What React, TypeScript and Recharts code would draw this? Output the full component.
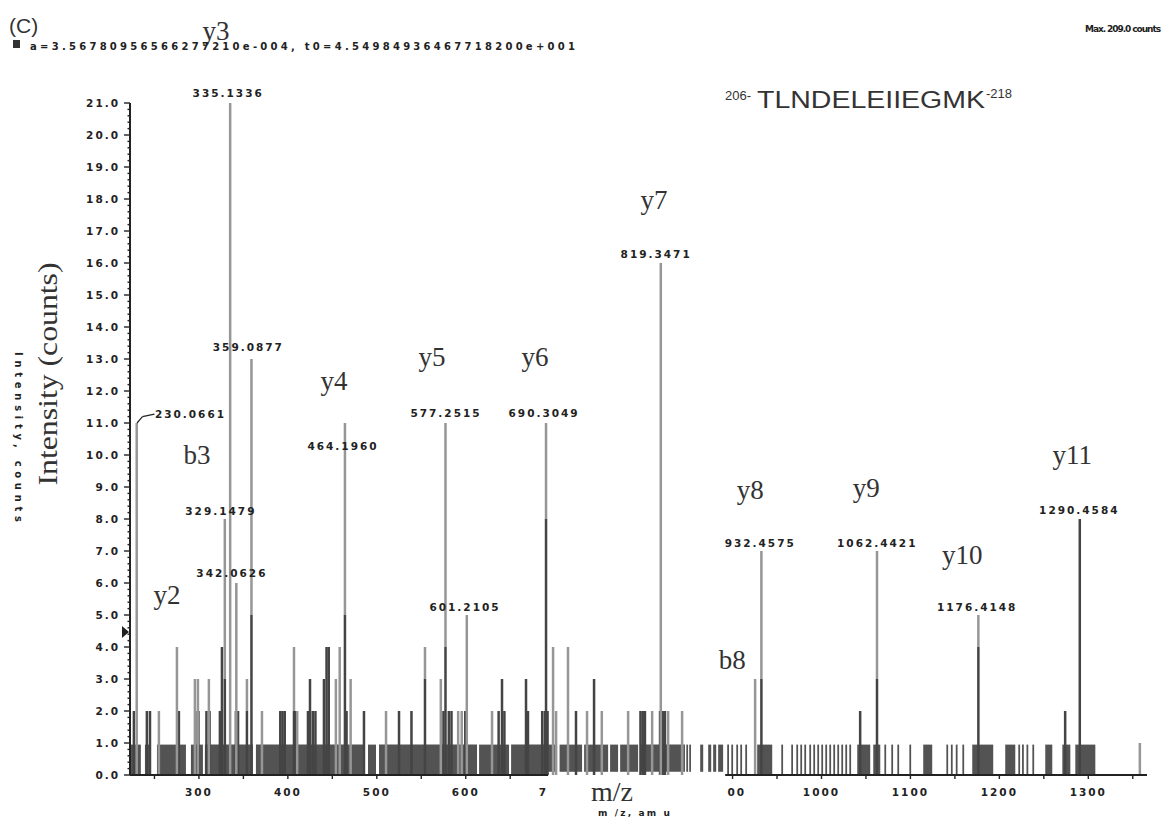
import React from 'react';
import { ComposedChart, Bar, XAxis, YAxis, ReferenceArea, ReferenceLine, ReferenceDot } from 'recharts';

// ---- spectrum data (m/z, intensity in counts) ----
const lightPeaks: [number, number][] = [
  [230.0661, 11], [255, 2], [275.3, 4], [295.5, 3], [298.9, 3], [311.2, 3],
  [329.1479, 8], [335.1336, 21], [342.0626, 6], [354, 3], [359.0877, 13],
  [370.9, 2], [406.9, 4], [410.5, 2], [454, 3], [458.3, 4], [464.196, 11],
  [470.6, 3], [510.4, 2], [554.2, 4], [572, 3], [577.2515, 11], [591.5, 2],
  [595.5, 2], [601.2105, 5], [629.6, 2], [667.8, 3], [690.3049, 11], [698.2, 4],
  [701.6, 2], [715, 4], [736.4, 2], [753, 2], [782.6, 2], [809.6, 2],
  [819.3471, 16], [827.6, 2], [843.3, 2], [925.4, 3], [932.4575, 7],
  [1062.4421, 7], [1176.4148, 5], [1358, 1],
];

const darkPeaks: [number, number][] = [
  [226.9, 2], [241.5, 2], [245, 2], [277.5, 2], [296, 2], [299.5, 2],
  [308.5, 2], [312, 2], [323.6, 2], [325.9, 4], [329.1479, 3], [341.6, 2],
  [344, 2], [354, 2], [359.0877, 5], [391.5, 2], [394, 2], [396.5, 2],
  [406.9, 2], [409, 2], [422.6, 2], [424.9, 3], [428, 2], [431, 2],
  [440.6, 3], [443.5, 4], [446, 4], [464.196, 5], [466, 2], [485.6, 2],
  [525, 2], [539, 2], [554.2, 3], [575, 2], [577.2515, 4], [581, 2], [584, 2],
  [599.5, 2], [637, 2], [640.8, 3], [643.5, 2], [667.8, 3], [670, 2],
  [686, 2], [689, 2], [690.3049, 8], [692, 2], [724, 2], [744.3, 3],
  [796.5, 2], [799, 2], [801.5, 2], [818.5, 2], [821.5, 2], [824, 2],
  [932.4575, 3], [1043.5, 2], [1062.4421, 3], [1176.4148, 4], [1274, 2],
  [1290.4584, 8],
];

// dense low-level noise (m/z ranges filled up to ~1 count)
const noiseBlocks: [number, number][] = [
  [222.5, 234.7], [239.3, 246.0], [252.8, 285.4], [291.0, 304.5], [306.7, 360.7],
  [364.1, 485.6], [490.1, 499.1], [502.5, 612.7], [615.0, 648.7], [651.0, 692.6],
  [692.6, 702.7], [705.5, 730.8], [733.1, 760.1], [762.3, 771.3], [773.6, 793.8],
  [796.1, 843.3], [844.5, 846.5], [848, 850], [851.3, 853.3], [863.6, 867],
  [872.6, 876], [878.2, 881.6], [883.8, 889.4], [894, 896], [898.6, 900.6],
  [904.2, 906.2], [908.7, 910.7], [914.3, 916.3], [927.7, 944.6], [954.8, 956.8],
  [966, 968], [971.7, 973.7], [976.2, 978.2], [980.7, 982.7], [986.3, 988.3],
  [990.8, 992.8], [995.3, 997.3], [999.8, 1001.8], [1004.3, 1006.3], [1008.8, 1010.8],
  [1013.3, 1015.3], [1017.8, 1019.8], [1022.3, 1024.3], [1026.8, 1028.8], [1031.3, 1033.3],
  [1040.2, 1054.8], [1058.2, 1066.1], [1070.7, 1072.7], [1078.5, 1080.5], [1085.3, 1087.3],
  [1098.8, 1100.8], [1114.4, 1124.5], [1140.4, 1142.4], [1145.5, 1147.5], [1151, 1153],
  [1158.4, 1160.4], [1169.5, 1193.1], [1206.6, 1217.9], [1221.3, 1223.3], [1225.5, 1227.5],
  [1230.5, 1232.5], [1237.1, 1239.1], [1251.6, 1259.5], [1270.8, 1279.8], [1285.4, 1307.9],
];
const NOISE_LEVEL = 0.95;

// ---- axes ----
const X_DOMAIN: [number, number] = [222.5, 1366];
const Y_DOMAIN: [number, number] = [0, 21];
const xTickValues = [250, 300, 350, 400, 450, 500, 550, 600, 650, 700, 750, 800, 850, 900, 950, 1000, 1050, 1100, 1150, 1200, 1250, 1300, 1350];
const xLabelTicks = [300, 400, 500, 600, 700, 800, 900, 1000, 1100, 1200, 1300];
const xLabelText = ['300', '400', '500', '600', '7', '', '00', '1000', '1100', '1200', '1300'];
const yMajorTicks = [0, 1, 2, 3, 4, 5, 6, 7, 8, 9, 10, 11, 12, 13, 14, 15, 16, 17, 18, 19, 20, 21];
const yAllTicks = Array.from({ length: 21 * 5 + 1 }, (_, i) => Math.round(i * 2) / 10);
const axisBreak: [number, number] = [692.6, 891.7];

// ---- annotations ----
const ionLabels = [
  { text: 'y3', mz: 319.1, y: 23.25 },
  { text: 'y2', mz: 264.0, y: 5.63 },
  { text: 'b3', mz: 297.8, y: 10.0 },
  { text: 'y4', mz: 451.9, y: 12.3 },
  { text: 'y5', mz: 562.1, y: 13.06 },
  { text: 'y6', mz: 677.9, y: 13.06 },
  { text: 'y7', mz: 811.8, y: 17.97 },
  { text: 'y8', mz: 919.8, y: 8.91 },
  { text: 'y9', mz: 1050.3, y: 8.97 },
  { text: 'y10', mz: 1158.3, y: 6.88 },
  { text: 'y11', mz: 1282.0, y: 10.0 },
  { text: 'b8', mz: 899.6, y: 3.59 },
];

const peakLabels = [
  { text: '335.1336', mz: 332.9, y: 21.31 },
  { text: '359.0877', mz: 355.6, y: 13.38 },
  { text: '329.1479', mz: 324.7, y: 8.25 },
  { text: '342.0626', mz: 337.1, y: 6.31 },
  { text: '464.1960', mz: 462.0, y: 10.28 },
  { text: '577.2515', mz: 577.8, y: 11.31 },
  { text: '601.2105', mz: 599.2, y: 5.25 },
  { text: '690.3049', mz: 688.1, y: 11.31 },
  { text: '819.3471', mz: 814.1, y: 16.28 },
  { text: '932.4575', mz: 931.1, y: 7.25 },
  { text: '1062.4421', mz: 1062.7, y: 7.25 },
  { text: '1176.4148', mz: 1175.1, y: 5.25 },
  { text: '1290.4584', mz: 1289.9, y: 8.28 },
];
const label230 = { text: '230.0661', mz: 250.5, y: 11.28 };
const leader230: [number, number][] = [[230.4, 11.0], [236.5, 11.2], [250, 11.28]];

// stacked table: dark lower part + light upper part at each m/z
const spectrum = (() => {
  const m = new Map<number, { mz: number; light: number; dark: number }>();
  const get = (mz: number) => {
    if (!m.has(mz)) m.set(mz, { mz, light: 0, dark: 0 });
    return m.get(mz)!;
  };
  lightPeaks.forEach(([mz, v]) => { get(mz).light = v; });
  darkPeaks.forEach(([mz, v]) => { get(mz).dark = v; });
  return [...m.values()]
    .sort((a, b) => a.mz - b.mz)
    .map((p) => ({ mz: p.mz, dark: p.dark, upper: Math.max(p.light - p.dark, 0) }));
})();

const NUM_FONT = '"DejaVu Sans", sans-serif';
const SERIF = '"Liberation Serif", "DejaVu Serif", serif';
const INK = '#222';
const DARK = '#444';
const LIGHT = '#969696';
const STEM_W = 2.5;

// a stem of fixed width centred on the bar's m/z position
const stem = (color: string) => (p: any) => {
  const { x, y, width, height } = p;
  if (!height || Math.abs(height) < 0.01) return <g />;
  const top = Math.min(y, y + height);
  return <rect x={x + width / 2 - STEM_W / 2} y={top} width={STEM_W} height={Math.abs(height)} fill={color} />;
};

const YTick = (props: any) => {
  const { x, y, payload } = props;
  const v = payload.value as number;
  const major = yMajorTicks.some((t) => Math.abs(t - v) < 1e-6);
  return (
    <g>
      <line x1={x - (major ? 6 : 2.5)} x2={x} y1={y} y2={y} stroke={INK} strokeWidth={1.4} />
      {major && (
        <text x={x - 10} y={y} textAnchor="end" dominantBaseline="central" fontFamily={NUM_FONT}
          fontWeight="bold" fontSize={10.5} letterSpacing={2} fill={INK}>
          {v.toFixed(1)}
        </text>
      )}
    </g>
  );
};

const XTick = (props: any) => {
  const { x, y, payload } = props;
  const v = payload.value as number;
  const hidden = v > axisBreak[0] && v < axisBreak[1];
  const idx = xLabelTicks.indexOf(v);
  const text = idx >= 0 ? xLabelText[idx] : '';
  let anchor: 'middle' | 'start' = 'middle';
  let dx = 0;
  if (text === '7') { anchor = 'start'; dx = -16; }
  if (text === '00') { anchor = 'start'; dx = -5; }
  return (
    <g>
      {!hidden && <line x1={x} x2={x} y1={y} y2={y + 4} stroke={INK} strokeWidth={1.4} />}
      {text && (
        <text x={x + dx} y={y + 17} textAnchor={anchor} dominantBaseline="central" fontFamily={NUM_FONT}
          fontWeight="bold" fontSize={10.5} letterSpacing={2} fill={INK}>
          {text}
        </text>
      )}
    </g>
  );
};

export default function App() {
  return (
    <div style={{ position: 'absolute', left: 0, top: 0, width: 1167, height: 821, background: '#fff' }}>
      <ComposedChart
        width={1167}
        height={821}
        data={spectrum}
        margin={{ top: 103, right: 20, bottom: 16, left: 70 }}
        barCategoryGap={0}
      >
        <XAxis
          dataKey="mz"
          type="number"
          domain={X_DOMAIN}
          allowDataOverflow
          ticks={xTickValues}
          interval={0}
          axisLine={false}
          tickLine={false}
          tickSize={0}
          tickMargin={0}
          height={30}
          tick={(p: any) => <XTick {...p} />}
        />
        <YAxis
          type="number"
          domain={Y_DOMAIN}
          allowDataOverflow
          ticks={yAllTicks}
          interval={0}
          width={60}
          axisLine={{ stroke: INK, strokeWidth: 2 }}
          tickLine={false}
          tickSize={0}
          tickMargin={0}
          tick={(p: any) => <YTick {...p} />}
        />
        {noiseBlocks.map(([a, b], i) => (
          <ReferenceArea
            key={`n${i}`}
            x1={a}
            x2={b}
            y1={a >= axisBreak[0] && b <= axisBreak[1] ? 0.1 : 0}
            y2={NOISE_LEVEL}
            fill="#535353"
            fillOpacity={1}
            stroke="none"
          />
        ))}
        <Bar dataKey="dark" stackId="s" fill={DARK} barSize={2} isAnimationActive={false} shape={stem(DARK)} />
        <Bar dataKey="upper" stackId="s" fill={LIGHT} barSize={2} isAnimationActive={false} shape={stem(LIGHT)} />
        <ReferenceLine segment={[{ x: X_DOMAIN[0], y: 0 }, { x: axisBreak[0], y: 0 }]} stroke={INK} strokeWidth={2} />
        <ReferenceLine segment={[{ x: axisBreak[1], y: 0 }, { x: X_DOMAIN[1], y: 0 }]} stroke={INK} strokeWidth={2} />
        <ReferenceLine segment={[{ x: leader230[0][0], y: leader230[0][1] }, { x: leader230[1][0], y: leader230[1][1] }]} stroke={INK} strokeWidth={1.2} />
        <ReferenceLine segment={[{ x: leader230[1][0], y: leader230[1][1] }, { x: leader230[2][0], y: leader230[2][1] }]} stroke={INK} strokeWidth={1.2} />
        <ReferenceDot
          x={X_DOMAIN[0]}
          y={4.47}
          r={0}
          ifOverflow="visible"
          shape={(p: any) => (
            <polygon points={`${p.cx - 8},${p.cy - 6} ${p.cx - 8},${p.cy + 6} ${p.cx - 1},${p.cy}`} fill="#222" />
          )}
        />
        {peakLabels.map((l) => (
          <ReferenceDot
            key={l.text}
            x={l.mz}
            y={l.y}
            r={0}
            ifOverflow="visible"
            shape={(p: any) => (
              <text x={p.cx} y={p.cy} textAnchor="middle" dominantBaseline="central" fontFamily={NUM_FONT}
                fontWeight="bold" fontSize={10.5} letterSpacing={2} fill={INK}>
                {l.text}
              </text>
            )}
          />
        ))}
        <ReferenceDot
          x={label230.mz}
          y={label230.y}
          r={0}
          ifOverflow="visible"
          shape={(p: any) => (
            <text x={p.cx} y={p.cy} textAnchor="start" dominantBaseline="central" fontFamily={NUM_FONT}
              fontWeight="bold" fontSize={10.5} letterSpacing={2} fill={INK}>
              {label230.text}
            </text>
          )}
        />
        {ionLabels.map((l) => (
          <ReferenceDot
            key={l.text}
            x={l.mz}
            y={l.y}
            r={0}
            ifOverflow="visible"
            shape={(p: any) => (
              <text x={p.cx} y={p.cy} textAnchor="middle" dominantBaseline="central" fontFamily={SERIF}
                fontSize={27} fill="#333">
                {l.text}
              </text>
            )}
          />
        ))}
      </ComposedChart>
      <svg width={1167} height={821} style={{ position: 'absolute', left: 0, top: 0, pointerEvents: 'none' }}>
        <text x={9} y={33} fontFamily='"Liberation Sans", sans-serif' fontSize={21} fill="#333">(C)</text>
        <rect x={13} y={40} width={7} height={8} fill="#333" />
        <text x={30} y={50} fontFamily={NUM_FONT} fontWeight="bold" fontSize={10} fill={INK}
          textLength={545} lengthAdjust="spacing">
          a=3.56780956566277210e-004, t0=4.54984936467718200e+001
        </text>
        <text x={1085} y={32} fontFamily={NUM_FONT} fontWeight="bold" fontSize={9} fill={INK}
          textLength={76} lengthAdjust="spacing">
          Max. 209.0 counts
        </text>
        <text x={725} y={100} fontFamily='"Liberation Sans", sans-serif' fontSize={13} fill="#333">206-</text>
        <text x={757} y={108} fontFamily='"Liberation Sans", sans-serif' fontSize={23} fill="#333"
          textLength={228} lengthAdjust="spacingAndGlyphs">
          TLNDELEIIEGMK
        </text>
        <text x={986} y={98} fontFamily='"Liberation Sans", sans-serif' fontSize={13} fill="#333">-218</text>
        <text transform="translate(57,374) rotate(-90)" textAnchor="middle" fontFamily={SERIF} fontSize={27}
          fill="#333" textLength={223} lengthAdjust="spacingAndGlyphs">
          Intensity (counts)
        </text>
        <text transform="translate(15,437) rotate(90)" textAnchor="middle" fontFamily={NUM_FONT} fontWeight="bold"
          fontSize={10} fill={INK} textLength={170} lengthAdjust="spacing">
          Intensity, counts
        </text>
        <text x={612} y={801} textAnchor="middle" fontFamily={SERIF} fontSize={28} fill="#333">m/z</text>
        <text x={634} y={816} textAnchor="middle" fontFamily={NUM_FONT} fontWeight="bold" fontSize={9} fill={INK}
          textLength={72} lengthAdjust="spacing">
          m /z, am u
        </text>
      </svg>
    </div>
  );
}
